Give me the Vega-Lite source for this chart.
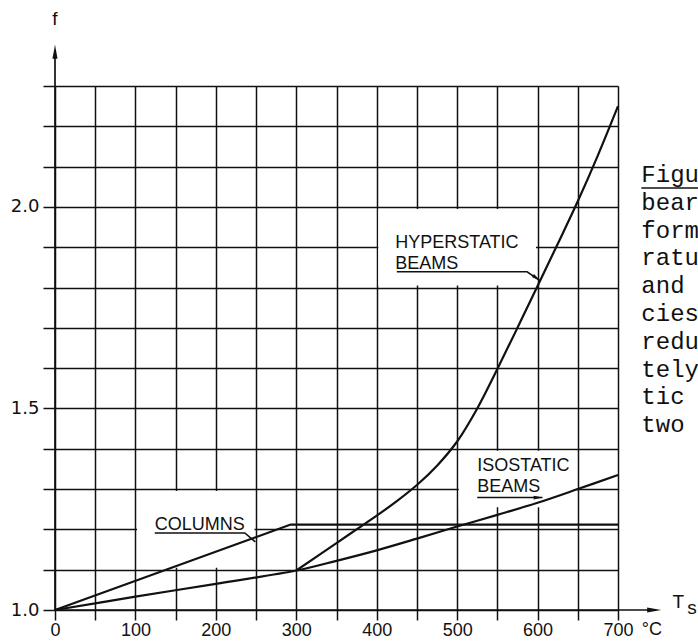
{
  "$schema": "https://vega.github.io/schema/vega-lite/v6.json",
  "autosize": {"type": "none"},
  "padding": {"left": 55, "top": 86, "right": 80, "bottom": 31},
  "width": 563,
  "height": 524,
  "background": "white",
  "config": {
    "view": {"stroke": null},
    "axis": {
      "grid": true,
      "gridColor": "#111",
      "gridWidth": 1.5,
      "gridOpacity": 1,
      "domain": false,
      "tickColor": "#111",
      "tickWidth": 1.5,
      "labelFont": "Liberation Sans",
      "labelFontSize": 18,
      "labelColor": "#111",
      "title": null
    }
  },
  "datasets": {
    "curves": [
      {"series": "columns", "T": 0, "f": 1.0},
      {"series": "columns", "T": 293, "f": 1.212},
      {"series": "columns", "T": 700, "f": 1.212},
      {"series": "isostatic", "T": 0, "f": 1.0},
      {"series": "isostatic", "T": 100, "f": 1.033},
      {"series": "isostatic", "T": 200, "f": 1.065},
      {"series": "isostatic", "T": 300, "f": 1.098},
      {"series": "isostatic", "T": 350, "f": 1.122},
      {"series": "isostatic", "T": 400, "f": 1.148},
      {"series": "isostatic", "T": 450, "f": 1.177},
      {"series": "isostatic", "T": 500, "f": 1.207},
      {"series": "isostatic", "T": 550, "f": 1.236},
      {"series": "isostatic", "T": 600, "f": 1.266},
      {"series": "isostatic", "T": 650, "f": 1.300},
      {"series": "isostatic", "T": 700, "f": 1.335},
      {"series": "hyperstatic", "T": 300, "f": 1.098},
      {"series": "hyperstatic", "T": 350, "f": 1.166},
      {"series": "hyperstatic", "T": 375, "f": 1.2},
      {"series": "hyperstatic", "T": 400, "f": 1.234},
      {"series": "hyperstatic", "T": 425, "f": 1.27},
      {"series": "hyperstatic", "T": 450, "f": 1.31},
      {"series": "hyperstatic", "T": 475, "f": 1.358},
      {"series": "hyperstatic", "T": 500, "f": 1.418},
      {"series": "hyperstatic", "T": 525, "f": 1.5},
      {"series": "hyperstatic", "T": 550, "f": 1.598},
      {"series": "hyperstatic", "T": 575, "f": 1.7},
      {"series": "hyperstatic", "T": 600, "f": 1.804},
      {"series": "hyperstatic", "T": 625, "f": 1.908},
      {"series": "hyperstatic", "T": 650, "f": 2.014},
      {"series": "hyperstatic", "T": 675, "f": 2.128},
      {"series": "hyperstatic", "T": 700, "f": 2.25}
    ],
    "boxes": [
      {"label": "columns", "T0": 102, "T1": 248, "f0": 1.105, "f1": 1.295},
      {"label": "hyperstatic", "T0": 402, "T1": 598, "f0": 1.805, "f1": 1.995},
      {"label": "isostatic", "T0": 502, "T1": 648, "f0": 1.255, "f1": 1.395}
    ],
    "leaders": [
      {"label": "columns", "order": 1, "T": 124, "f": 1.191},
      {"label": "columns", "order": 2, "T": 236, "f": 1.191},
      {"label": "columns", "order": 3, "T": 249, "f": 1.169},
      {"label": "hyperstatic", "order": 1, "T": 425, "f": 1.839},
      {"label": "hyperstatic", "order": 2, "T": 587, "f": 1.839},
      {"label": "hyperstatic", "order": 3, "T": 603, "f": 1.817},
      {"label": "isostatic", "order": 1, "T": 525, "f": 1.279},
      {"label": "isostatic", "order": 2, "T": 606, "f": 1.279}
    ],
    "arrowheads": [
      {"label": "hyperstatic", "T": 599, "f": 1.823, "dir": 35},
      {"label": "isostatic", "T": 601, "f": 1.279, "dir": 0}
    ],
    "labels": [
      {"text": "HYPERSTATIC", "T": 423, "f": 1.898},
      {"text": "BEAMS", "T": 423, "f": 1.846},
      {"text": "ISOSTATIC", "T": 525, "f": 1.344},
      {"text": "BEAMS", "T": 525, "f": 1.292},
      {"text": "COLUMNS", "T": 124, "f": 1.199}
    ],
    "caption": [
      {"text": "Figu", "T": 729, "f": 2.062},
      {"text": "bear", "T": 729, "f": 1.993},
      {"text": "form", "T": 729, "f": 1.924},
      {"text": "ratu", "T": 729, "f": 1.855},
      {"text": "and", "T": 729, "f": 1.786},
      {"text": "cies", "T": 729, "f": 1.717},
      {"text": "redu", "T": 729, "f": 1.648},
      {"text": "tely", "T": 729, "f": 1.579},
      {"text": "tic", "T": 729, "f": 1.510},
      {"text": "two", "T": 729, "f": 1.441}
    ],
    "axislines": [
      {"axis": "y", "T": 0, "f": 1.0, "T2": 0, "f2": 2.385},
      {"axis": "x", "T": 0, "f": 1.0, "T2": 742, "f2": 1.0},
      {"axis": "underline", "T": 729, "f": 2.047, "T2": 800, "f2": 2.047}
    ],
    "axisheads": [
      {"axis": "y", "T": 0, "f": 2.385, "dir": -90},
      {"axis": "x", "T": 745, "f": 1.0, "dir": 0}
    ],
    "axistitles": [
      {"text": "f", "T": 0, "f": 2.465},
      {"text": "T", "T": 775, "f": 1.02},
      {"text": "s", "T": 792, "f": 1.005}
    ],
    "unit": [
      {"text": "°C", "T": 742, "f": 0.938}
    ]
  },
  "layer": [
    {
      "data": {"name": "boxes"},
      "mark": {"type": "rect", "fill": "white", "stroke": null},
      "encoding": {
        "x": {
          "field": "T0", "type": "quantitative",
          "scale": {"domain": [0, 700], "nice": false, "zero": false},
          "axis": {
            "values": [0, 50, 100, 150, 200, 250, 300, 350, 400, 450, 500, 550, 600, 650, 700],
            "labelExpr": "datum.value % 100 == 0 ? datum.label : ''",
            "tickSize": 10,
            "labelPadding": 1,
            "labelAngle": 0,
            "labelFlush": false,
            "labelOverlap": false
          }
        },
        "x2": {"field": "T1"},
        "y": {
          "field": "f0", "type": "quantitative",
          "scale": {"domain": [1.0, 2.3], "nice": false, "zero": false},
          "axis": {
            "values": [1.0, 1.1, 1.2, 1.3, 1.4, 1.5, 1.6, 1.7, 1.8, 1.9, 2.0, 2.1, 2.2, 2.3],
            "labelExpr": "(abs(datum.value - 1) < 0.001 || abs(datum.value - 1.5) < 0.001 || abs(datum.value - 2) < 0.001) ? format(datum.value, '.1f') : ''",
            "labelFont": "DejaVu Sans",
            "labelFontSize": 18,
            "tickSize": 12,
            "labelPadding": 4,
            "labelFlush": false,
            "labelOverlap": false
          }
        },
        "y2": {"field": "f1"}
      }
    },
    {
      "data": {"name": "axislines"},
      "mark": {"type": "rule", "color": "#111", "strokeWidth": 1.7},
      "encoding": {
        "x": {"field": "T", "type": "quantitative"},
        "y": {"field": "f", "type": "quantitative"},
        "x2": {"field": "T2"},
        "y2": {"field": "f2"}
      }
    },
    {
      "data": {"name": "axisheads"},
      "mark": {"type": "point", "shape": "M1,0L-1,-0.36L-1,0.36Z", "filled": true, "color": "#111", "size": 200, "opacity": 1},
      "encoding": {
        "x": {"field": "T", "type": "quantitative"},
        "y": {"field": "f", "type": "quantitative"},
        "angle": {"field": "dir", "type": "quantitative", "scale": null}
      }
    },
    {
      "data": {"name": "curves"},
      "transform": [{"filter": "datum.series == 'columns'"}],
      "mark": {"type": "line", "color": "#111", "strokeWidth": 2.2},
      "encoding": {
        "x": {"field": "T", "type": "quantitative"},
        "y": {"field": "f", "type": "quantitative"}
      }
    },
    {
      "data": {"name": "curves"},
      "transform": [{"filter": "datum.series != 'columns'"}],
      "mark": {"type": "line", "color": "#111", "strokeWidth": 2.2, "interpolate": "catmull-rom"},
      "encoding": {
        "x": {"field": "T", "type": "quantitative"},
        "y": {"field": "f", "type": "quantitative"},
        "detail": {"field": "series"}
      }
    },
    {
      "data": {"name": "leaders"},
      "mark": {"type": "line", "color": "#111", "strokeWidth": 1.6},
      "encoding": {
        "x": {"field": "T", "type": "quantitative"},
        "y": {"field": "f", "type": "quantitative"},
        "detail": {"field": "label"},
        "order": {"field": "order"}
      }
    },
    {
      "data": {"name": "arrowheads"},
      "mark": {"type": "point", "shape": "M1,0L-1,-0.4L-1,0.4Z", "filled": true, "color": "#111", "size": 90, "opacity": 1},
      "encoding": {
        "x": {"field": "T", "type": "quantitative"},
        "y": {"field": "f", "type": "quantitative"},
        "angle": {"field": "dir", "type": "quantitative", "scale": null}
      }
    },
    {
      "data": {"name": "labels"},
      "mark": {"type": "text", "font": "Liberation Sans", "fontSize": 18, "align": "left", "baseline": "alphabetic", "color": "#111"},
      "encoding": {
        "x": {"field": "T", "type": "quantitative"},
        "y": {"field": "f", "type": "quantitative"},
        "text": {"field": "text"}
      }
    },
    {
      "data": {"name": "caption"},
      "mark": {"type": "text", "font": "Liberation Mono", "fontSize": 24, "align": "left", "baseline": "alphabetic", "color": "#111"},
      "encoding": {
        "x": {"field": "T", "type": "quantitative"},
        "y": {"field": "f", "type": "quantitative"},
        "text": {"field": "text"}
      }
    },
    {
      "data": {"name": "axistitles"},
      "mark": {"type": "text", "font": "Liberation Sans", "fontSize": 19, "align": "center", "baseline": "middle", "color": "#111"},
      "encoding": {
        "x": {"field": "T", "type": "quantitative"},
        "y": {"field": "f", "type": "quantitative"},
        "text": {"field": "text"}
      }
    },
    {
      "data": {"name": "unit"},
      "mark": {"type": "text", "font": "Liberation Sans", "fontSize": 18, "align": "center", "baseline": "alphabetic", "color": "#111"},
      "encoding": {
        "x": {"field": "T", "type": "quantitative"},
        "y": {"field": "f", "type": "quantitative"},
        "text": {"field": "text"}
      }
    }
  ]
}
